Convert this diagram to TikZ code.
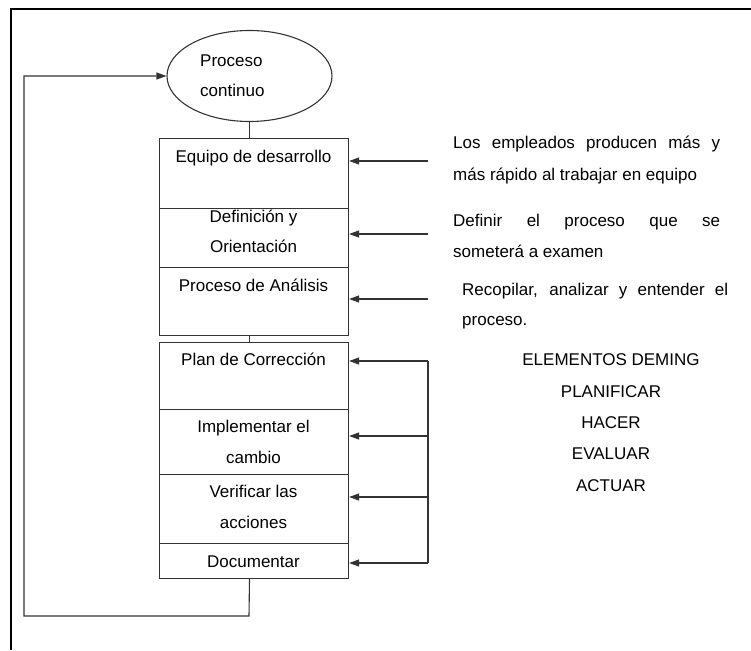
\documentclass[tikz,border=0pt]{standalone}
\usepackage{fontspec}
\setmainfont{Liberation Sans}
\usetikzlibrary{arrows.meta,shapes.geometric}
\begin{document}
\begin{tikzpicture}[x=1pt,y=-1pt,font=\fontsize{17}{20}\selectfont,
  boxst/.style={draw=black!80,line width=1.1pt,rectangle,inner sep=0pt,minimum width=189pt,anchor=north west},
  lin/.style={draw=black!80,line width=1.1pt},
  arr/.style={lin,-{Triangle[length=10pt,width=7pt]}},
  txt/.style={anchor=base,inner sep=0pt,text=black},
  rtxt/.style={anchor=base west,inner sep=0pt,text=black}]
\useasboundingbox (0,0) rectangle (751,650);
\draw[line width=2.5pt] (11,650) -- (11,9) -- (751,9);
% ellipse
\node[draw=black!80,line width=1.1pt,ellipse,inner sep=0pt,minimum width=165pt,minimum height=91pt] (ell) at (249.5,76) {};
\node[rtxt] (e1) at (200,67) {Proceso};
\node[rtxt] (e2) at (200,97) {continuo};
% boxes
\node[boxst,minimum height=70pt] (b1) at (159,138) {};
\node[boxst,minimum height=59pt] (b2) at (159,208) {};
\node[boxst,minimum height=68pt] (b3) at (159,267) {};
\node[boxst,minimum height=67pt] (b4) at (159,342) {};
\node[boxst,minimum height=65pt] (b5) at (159,409) {};
\node[boxst,minimum height=69pt] (b6) at (159,474) {};
\node[boxst,minimum height=35pt] (b7) at (159,543) {};
% box texts
\node[txt] (t1) at (253.5,162) {Equipo de desarrollo};
\node[txt] (t2a) at (253.5,222) {Definición y};
\node[txt] (t2b) at (253.5,252) {Orientación};
\node[txt] (t3) at (253.5,291) {Proceso de Análisis};
\node[txt] (t4) at (253.5,365) {Plan de Corrección};
\node[txt] (t5a) at (253.5,432) {Implementar el};
\node[txt] (t5b) at (253.5,463) {cambio};
\node[txt] (t6a) at (253.5,497) {Verificar las};
\node[txt] (t6b) at (253.5,528) {acciones};
\node[txt] (t7) at (253.5,567) {Documentar};
% vertical connectors
\draw[lin] (ell.south) -- (ell.south |- b1.north);
\draw[lin] (ell.south |- b3.south) -- (ell.south |- b4.north);
% loop back
\coordinate (l1) at (249,616);
\coordinate (l2) at (24,616);
\coordinate (l3) at (24,76);
\draw[arr] (ell.south |- b7.south) -- (l1) -- (l2) -- (l3) -- (ell.west);
% right arrows
\coordinate (r1) at (428,161);
\coordinate (r2) at (428,234);
\coordinate (r3) at (428,299);
\draw[arr] (r1) -- (b1.east |- r1);
\draw[arr] (r2) -- (b2.east |- r2);
\draw[arr] (r3) -- (b3.east |- r3);
% feedback bracket
\coordinate (f1) at (428,361);
\coordinate (f2) at (428,436);
\coordinate (f3) at (428,497);
\coordinate (f4) at (428,563);
\draw[lin] (f1) -- (f4);
\draw[arr] (f1) -- (b4.east |- f1);
\draw[arr] (f2) -- (b5.east |- f2);
\draw[arr] (f3) -- (b6.east |- f3);
\draw[arr] (f4) -- (b7.east |- f4);
% right texts
\node[rtxt] (d1a) at (453,148) {\makebox[267pt][s]{Los empleados producen más y}};
\node[rtxt] (d1b) at (453,180) {más rápido al trabajar en equipo};
\node[rtxt] (d2a) at (453,226) {\makebox[267pt][s]{Definir el proceso que se}};
\node[rtxt] (d2b) at (453,257) {someterá a examen};
\node[rtxt] (d3a) at (462,295) {\makebox[266pt][s]{Recopilar, analizar y entender el}};
\node[rtxt] (d3b) at (462,325) {proceso.};
% deming
\node[txt] (m0) at (611,365) {ELEMENTOS DEMING};
\node[txt] (m1) at (611,397) {PLANIFICAR};
\node[txt] (m2) at (611,428) {HACER};
\node[txt] (m3) at (611,459) {EVALUAR};
\node[txt] (m4) at (611,491) {ACTUAR};
\end{tikzpicture}
\end{document}
